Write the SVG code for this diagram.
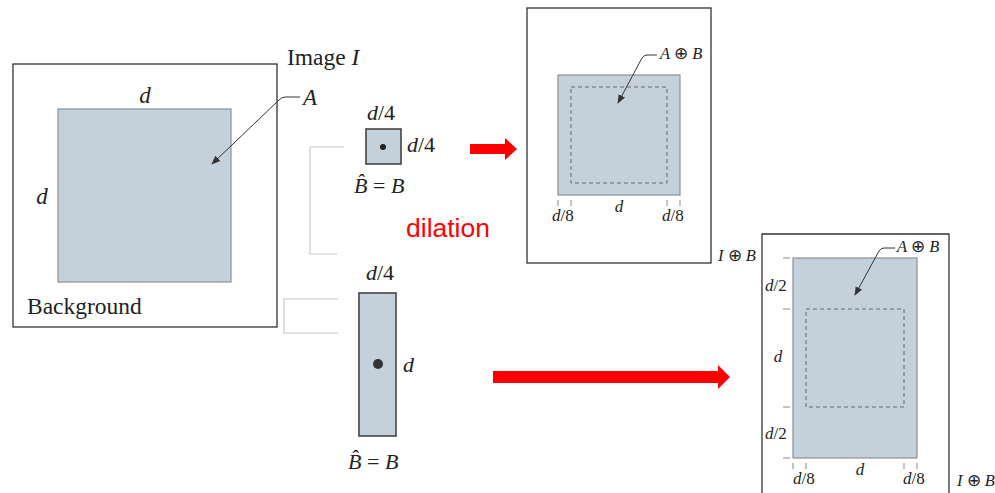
<svg xmlns="http://www.w3.org/2000/svg" width="995" height="493" viewBox="0 0 995 493">
<defs>
<style>
.frame{fill:#fff;stroke:#333;stroke-width:1.3}
.set{fill:#c5d1da;stroke:#8a9096;stroke-width:1.2}
.se{fill:#c5d1da;stroke:#444;stroke-width:1.6}
.dash{fill:none;stroke:#666;stroke-width:1;stroke-dasharray:4,3}
.tick{stroke:#888;stroke-width:1}
.lead{fill:none;stroke:#333;stroke-width:1}
.brk{fill:none;stroke:#c8c8c8;stroke-width:1.2}
.t{font-family:"Liberation Serif",serif;fill:#222}
.i{font-style:italic}
.red{fill:#ff0000}
</style>
<marker id="ah" viewBox="0 0 10 10" refX="9" refY="5" markerWidth="9" markerHeight="9" markerUnits="userSpaceOnUse" orient="auto"><path d="M0,1 L10,5 L0,9 z" fill="#333"/></marker>
</defs>

<g id="imageI">
<rect class="frame" x="13" y="64" width="264" height="263"/>
<rect class="set" x="58" y="109" width="173" height="173"/>
<text class="t i" x="145" y="103" font-size="23" text-anchor="middle">d</text>
<text class="t i" x="42" y="204" font-size="23" text-anchor="middle">d</text>
<text class="t" x="27" y="314" font-size="23.5">Background</text>
<text class="t" x="287" y="65" font-size="23.5">Image <tspan class="i">I</tspan></text>
<text class="t i" x="303" y="105" font-size="23">A</text>
</g>

<g id="se1">
<rect class="se" x="366" y="129" width="35" height="35"/>
<circle cx="383" cy="147" r="3" fill="#222"/>
<text class="t" x="381" y="120" font-size="22" text-anchor="middle"><tspan class="i">d</tspan>/4</text>
<text class="t" x="407" y="152" font-size="22"><tspan class="i">d</tspan>/4</text>
<text class="t" x="354" y="193" font-size="22"><tspan class="i">B̂</tspan> = <tspan class="i">B</tspan></text>
</g>

<g id="se2">
<rect class="se" x="359" y="293" width="37" height="143"/>
<circle cx="378" cy="364" r="5" fill="#333"/>
<text class="t" x="380" y="280" font-size="22" text-anchor="middle"><tspan class="i">d</tspan>/4</text>
<text class="t i" x="403" y="372" font-size="22">d</text>
<text class="t" x="348" y="469" font-size="22"><tspan class="i">B̂</tspan> = <tspan class="i">B</tspan></text>
</g>

<g id="label">
<text x="406" y="237" font-family="'Liberation Sans',Arial,sans-serif" font-size="26.5" fill="#ff0000">dilation</text>
</g>

<g id="result1">
<rect class="frame" x="527" y="8" width="184" height="255"/>
<rect class="set" x="558" y="75" width="122" height="120"/>
<rect class="dash" x="571" y="87" width="96" height="96"/>
<line class="tick" x1="558" y1="200" x2="558" y2="206"/>
<line class="tick" x1="571" y1="200" x2="571" y2="206"/>
<line class="tick" x1="667" y1="200" x2="667" y2="206"/>
<line class="tick" x1="680" y1="200" x2="680" y2="206"/>
<text class="t" x="552" y="221" font-size="17"><tspan class="i">d</tspan>/8</text>
<text class="t i" x="619" y="212" font-size="17" text-anchor="middle">d</text>
<text class="t" x="662" y="221" font-size="17"><tspan class="i">d</tspan>/8</text>
<text class="t" x="660" y="59" font-size="16.5"><tspan class="i">A</tspan> ⊕ <tspan class="i">B</tspan></text>
<text class="t" x="718" y="261" font-size="16.5"><tspan class="i">I</tspan> ⊕ <tspan class="i">B</tspan></text>
</g>

<g id="result2">
<path class="frame" d="M762,500 L762,234 L949,234 L949,500"/>
<rect class="set" x="793" y="258" width="124" height="200"/>
<rect class="dash" x="806" y="309" width="98" height="98"/>
<line class="tick" x1="783" y1="258" x2="790" y2="258"/>
<line class="tick" x1="783" y1="309" x2="790" y2="309"/>
<line class="tick" x1="783" y1="407" x2="790" y2="407"/>
<line class="tick" x1="783" y1="458" x2="790" y2="458"/>
<line class="tick" x1="793" y1="463" x2="793" y2="469"/>
<line class="tick" x1="806" y1="463" x2="806" y2="469"/>
<line class="tick" x1="904" y1="463" x2="904" y2="469"/>
<line class="tick" x1="917" y1="463" x2="917" y2="469"/>
<text class="t" x="765" y="291" font-size="17"><tspan class="i">d</tspan>/2</text>
<text class="t i" x="778" y="362" font-size="17" text-anchor="middle">d</text>
<text class="t" x="765" y="439" font-size="17"><tspan class="i">d</tspan>/2</text>
<text class="t" x="793" y="484" font-size="17"><tspan class="i">d</tspan>/8</text>
<text class="t i" x="860" y="475" font-size="17" text-anchor="middle">d</text>
<text class="t" x="903" y="484" font-size="17"><tspan class="i">d</tspan>/8</text>
<text class="t" x="897" y="252" font-size="16.5"><tspan class="i">A</tspan> ⊕ <tspan class="i">B</tspan></text>
<text class="t" x="957" y="486" font-size="16.5"><tspan class="i">I</tspan> ⊕ <tspan class="i">B</tspan></text>
</g>

<g id="connectors">
<path class="lead" d="M300,97 L285,97 Q281,97 278,101 L212,164" marker-end="url(#ah)"/>
<path class="lead" d="M657,55 L647,55 Q644,55 642,58 L618,103" marker-end="url(#ah)"/>
<path class="lead" d="M895,248 L884,248 Q881,248 879,251 L855,295" marker-end="url(#ah)"/>
<path class="brk" d="M344,147 L310,147 L310,254 L337,254"/>
<path class="brk" d="M338,299 L284,299 L284,333 L338,333"/>
<path class="red" d="M470,144 L505,144 L505,138 L517,149 L505,160 L505,154 L470,154 z"/>
<path class="red" d="M493,371 L718,371 L718,365 L730,377 L718,389 L718,383 L493,383 z"/>
</g>
</svg>
